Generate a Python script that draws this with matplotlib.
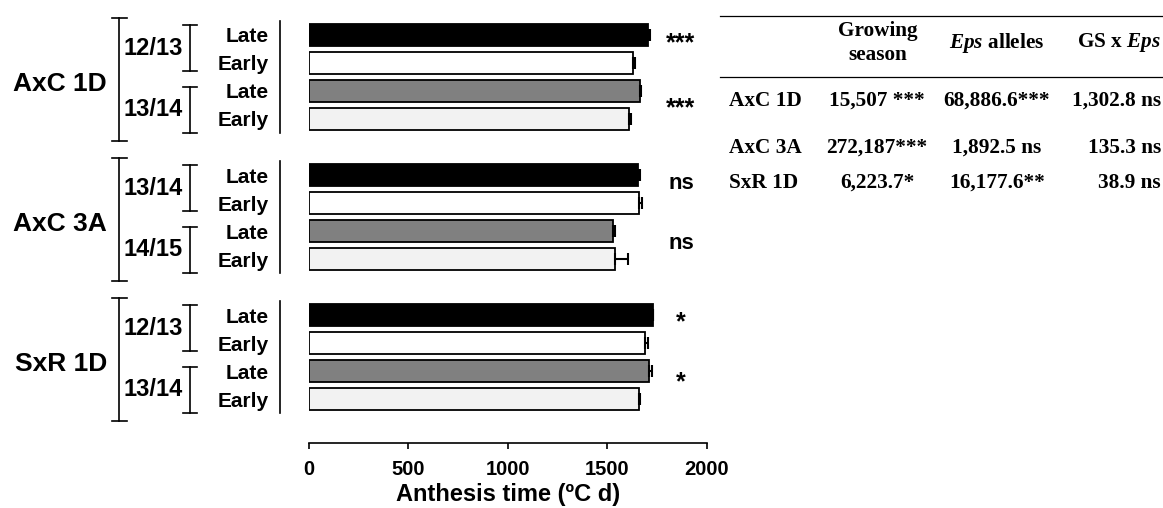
import numpy as np
import matplotlib.pyplot as plt

plt.rcParams["mathtext.fontset"] = "custom"
plt.rcParams["mathtext.bfit"] = "Liberation Serif:italic:bold"

# bar chart data
groups = ["AxC 1D", "AxC 3A", "SxR 1D"]
seasons = [["12/13", "13/14"], ["13/14", "14/15"], ["12/13", "13/14"]]
alleles = ["Late", "Early", "Late", "Early"]
anthesis = [[1707, 1631, 1665, 1611],
            [1657, 1662, 1528, 1541],
            [1729, 1692, 1709, 1662]]
anthesis_se = [[8, 9, 7, 7],
               [8, 13, 11, 65],
               [0, 15, 16, 3]]
significance = [["***", "***"], ["ns", "ns"], ["*", "*"]]

# ANOVA table
table_cols = ["Growing\nseason", r"$\mathbfit{Eps}$ alleles", r"GS x $\mathbfit{Eps}$"]
table_rows = ["AxC 1D", "AxC 3A", "SxR 1D"]
table_gs = ["15,507 ***", "272,187***", "6,223.7*"]
table_eps = ["68,886.6***", "1,892.5 ns", "16,177.6**"]
table_int = ["1,302.8 ns", "135.3 ns", "38.9 ns"]

bar_colors = ["black", "white", "#808080", "#f2f2f2"]
sans = "Liberation Sans"
serif = "Liberation Serif"

fig = plt.figure(figsize=(11.63, 5.08), dpi=100)
ax = fig.add_axes([309 / 1163, 65 / 508, 397.7 / 1163, 425 / 508])


def fx(px):
    # figure pixel x -> axes fraction
    return (px - 309) / 397.7


ypos, vals, errs, cols, labels = [], [], [], [], []
for g in range(len(groups)):
    for i in range(4):
        ypos.append(g * 5 + i)
        vals.append(anthesis[g][i])
        errs.append(anthesis_se[g][i])
        cols.append(bar_colors[i])
        labels.append(alleles[i])

ax.barh(ypos, vals, height=0.82, color=cols, edgecolor="black", linewidth=1.3, zorder=2)
ax.errorbar(vals, ypos, xerr=[np.zeros(len(errs)), errs], fmt="none",
            ecolor="black", elinewidth=1.5, capsize=4.3, capthick=1.5, zorder=3)

ax.set_xlim(0, 2000)
ax.set_ylim(14.571, -0.607)
ax.set_xticks([0, 500, 1000, 1500, 2000])
ax.set_yticks(ypos)
ax.set_yticklabels(labels, fontsize=15, fontweight="bold", family=sans)
ax.tick_params(axis="y", length=0, pad=29)
ax.tick_params(axis="x", direction="out", length=4, width=1.2, labelsize=14.5, pad=8)
for lab in ax.get_xticklabels():
    lab.set_fontweight("bold")
    lab.set_family(sans)
for s in ["top", "right", "left"]:
    ax.spines[s].set_visible(False)
ax.spines["bottom"].set_linewidth(1.2)
ax.set_xlabel("Anthesis time (ºC d)", fontsize=17, fontweight="bold", family=sans, labelpad=3)

tr = ax.get_yaxis_transform()
lw = 1.2
sig_y = {"***": [0.29, 2.61], "ns": [0.3, 2.45], "*": [0.27, 2.41]}
for g in range(len(groups)):
    y0 = g * 5
    # vertical line next to Late/Early labels
    ax.plot([fx(280), fx(280)], [y0 - 0.5, y0 + 3.5], color="black", lw=lw,
            transform=tr, clip_on=False)
    # season brackets
    for k, (a, b) in enumerate([(-0.35, 1.3), (1.85, 3.5)]):
        ax.plot([fx(183), fx(197)], [y0 + a, y0 + a], color="black", lw=lw, transform=tr, clip_on=False)
        ax.plot([fx(183), fx(197)], [y0 + b, y0 + b], color="black", lw=lw, transform=tr, clip_on=False)
        ax.plot([fx(190), fx(190)], [y0 + a, y0 + b], color="black", lw=lw, transform=tr, clip_on=False)
        ax.text(fx(183), y0 + (a + b) / 2, seasons[g][k], transform=tr, ha="right", va="center",
                fontsize=17, fontweight="bold", family=sans)
    # group bracket
    a, b = -0.6, 3.8
    ax.plot([fx(112), fx(127)], [y0 + a, y0 + a], color="black", lw=lw, transform=tr, clip_on=False)
    ax.plot([fx(112), fx(127)], [y0 + b, y0 + b], color="black", lw=lw, transform=tr, clip_on=False)
    ax.plot([fx(119), fx(119)], [y0 + a, y0 + b], color="black", lw=lw, transform=tr, clip_on=False)
    ax.text(fx(107), y0 + 1.75, groups[g], transform=tr, ha="right", va="center",
            fontsize=19, fontweight="bold", family=sans)
    # significance
    for k in range(2):
        lab = significance[g][k]
        ax.text(fx(681), y0 + sig_y[lab][k], lab, transform=tr,
                ha="center", va="center", fontsize=16 if lab == "ns" else 18,
                fontweight="bold", family=sans)

# table drawn in figure pixel coordinates
ov = fig.add_axes([0, 0, 1, 1])
ov.set_xlim(0, 1163)
ov.set_ylim(508, 0)
ov.axis("off")
ov.plot([720, 1163], [16, 16], color="black", lw=0.9)
ov.plot([720, 1163], [77, 77], color="black", lw=0.9)

tfs = 15.3
ov.text(878, 43, table_cols[0], ha="center", va="center", fontsize=tfs, fontweight="bold",
        family=serif, linespacing=1.3)
ov.text(997, 43, table_cols[1], ha="center", va="center", fontsize=tfs, fontweight="bold", family=serif)
ov.text(1161, 43, table_cols[2], ha="right", va="center", fontsize=tfs, fontweight="bold", family=serif)

row_y = [101, 148, 183]
for r in range(len(table_rows)):
    y = row_y[r]
    ov.text(729, y, table_rows[r], ha="left", va="center", fontsize=tfs, fontweight="bold", family=serif)
    ov.text(877, y, table_gs[r], ha="center", va="center", fontsize=tfs, fontweight="bold", family=serif)
    ov.text(997, y, table_eps[r], ha="center", va="center", fontsize=tfs, fontweight="bold", family=serif)
    ov.text(1161, y, table_int[r], ha="right", va="center", fontsize=tfs, fontweight="bold", family=serif)

fig.savefig("out.png", dpi=100)
